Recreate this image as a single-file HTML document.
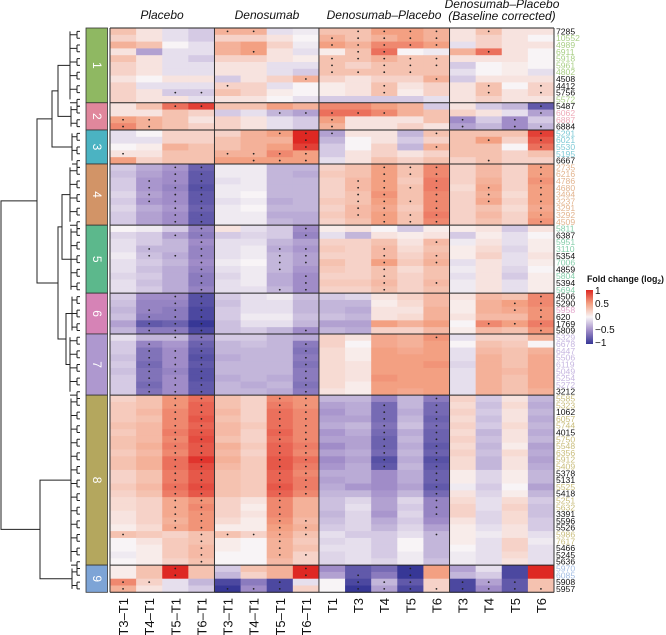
<!DOCTYPE html>
<html><head><meta charset="utf-8"><style>
html,body{margin:0;padding:0;background:#fff;}
svg{display:block;font-family:"Liberation Sans",sans-serif;}
</style></head><body>
<svg id="chart" width="666" height="635" viewBox="0 0 666 635" xmlns="http://www.w3.org/2000/svg">
<g id="dendro" stroke="#222" stroke-width="1" fill="none"></g>
<g id="clusters"></g>
<g id="cells"></g>
<g id="stars"></g>
<g id="grid"></g>
<g id="rowlabels"></g>
<g id="collabels"></g>
<g font-style="italic" font-size="12" text-anchor="middle" fill="#111">
<text x="162" y="19">Placebo</text>
<text x="267" y="19">Denosumab</text>
<text x="384" y="19">Denosumab–Placebo</text>
<text x="502" y="8">Denosumab–Placebo</text>
<text x="502" y="20">(Baseline corrected)</text>
</g>
<g id="legend">
<text x="587" y="282" font-size="8.8" font-weight="bold" fill="#111">Fold change (log<tspan font-size="6.5" dy="2">2</tspan><tspan dy="-2">)</tspan></text>
<defs><linearGradient id="lg" x1="0" y1="0" x2="0" y2="1">
<stop offset="0" stop-color="rgb(222,40,35)"/><stop offset="0.25" stop-color="rgb(243,160,130)"/><stop offset="0.5" stop-color="rgb(248,244,246)"/><stop offset="0.75" stop-color="rgb(160,140,200)"/><stop offset="1" stop-color="rgb(55,55,150)"/></linearGradient></defs>
<rect x="586" y="290" width="7" height="54" fill="url(#lg)"/>
<g font-size="10" fill="#111">
<text x="595" y="294">1</text>
<text x="595" y="307">0.5</text>
<text x="595" y="320">0</text>
<text x="595" y="333">−0.5</text>
<text x="595" y="346">−1</text>
</g>
</g>
</svg>
<script>
const columnLabels = ["T3–T1","T4–T1","T5–T1","T6–T1","T3–T1","T4–T1","T5–T1","T6–T1","T1","T3","T4","T5","T6","T3","T4","T5","T6"];
const clusterNames = ["1","2","3","4","5","6","7","8","9"];
const clusterSizes = [11,4,5,9,10,6,9,25,4];
const rowLabels = ["7285","10552","4989","6911","5918","5961","4802","4508","4412","5756","5572",
"5487","6062","6887","6884",
"5291","6021","5530","5195","6667",
"2735","6216","4786","4680","3494","3237","3291","3292","4509",
"5811","6387","5951","3110","5354","7006","4859","5804","5394","5694",
"4506","5290","5958","620","1769","5809",
"5329","6678","6447","5506","6119","5049","5254","5272","3212",
"5585","5323","1062","6057","5744","4015","5750","5548","6356","5912","5409","5378","5131","5525","5418","5251","5632","3391","5596","5526","5986","7617","5466","5245","5636",
"5970","6085","5908","5957"];
const blackLabels = ["7285","4508","4412","5756","5487","6884","6667","6387","5354","4859","5394","4506","5290","620","1769","5809","3212","1062","4015","5378","5131","5418","3391","5596","5526","5466","5245","5636","5908","5957"];
const values = [
[.3,.1,-.1,-.2,.4,.4,-.1,-.05,.3,.3,.5,.5,.4,.1,.3,.1,.1],
[.2,.1,-.1,-.2,.2,.2,.1,0,.4,.3,.4,.5,.4,.1,.2,.1,0],
[.4,.3,0,-.1,.4,.5,.2,-.05,.5,.4,.6,.6,.5,-.1,.2,.1,.1],
[.1,-.4,-.1,-.1,.4,.5,.1,-.1,.05,.3,.7,0,-.05,.4,.7,.1,0],
[.3,.1,-.1,-.2,.2,.2,.1,.05,.3,.3,.4,.3,.3,.1,.1,.1,0],
[.2,.1,-.1,-.1,.1,.1,-.1,-.1,.3,.2,.3,.3,.3,-.2,0,.05,0],
[.2,.1,-.1,-.1,.1,.1,-.1,-.2,.3,.3,.3,.3,.3,-.1,0,.05,-.1],
[.1,0,.1,.1,-.2,.1,.2,.4,.2,.1,.2,.2,.4,-.2,.1,.1,.1],
[.2,-.1,-.1,-.1,.2,.2,-.1,0,.05,.1,.3,.1,.2,.1,.3,0,.2],
[.2,.1,-.2,-.2,.3,.2,.05,0,.05,.1,.3,.05,.2,.1,.3,.1,.2],
[.2,.1,.1,-.1,.1,.1,0,-.1,-.2,-.2,-.2,-.2,-.1,.1,.2,.1,.1],
[.1,.3,.7,.9,.3,.3,.5,.4,.6,.6,.5,.4,-.2,.1,-.2,-.3,-.8],
[.1,.1,.3,.2,-.2,-.1,-.3,-.4,.7,.7,.6,.4,.3,.2,.1,-.1,-.4],
[.5,.4,.3,.1,.2,.1,-.1,-.2,.5,.1,.1,.1,.3,-.5,-.2,-.5,-.2],
[.6,.4,.3,.2,.2,.1,-.1,-.2,.4,.1,.1,.2,.1,-.4,-.3,-.5,-.3],
[-.1,0,.2,.2,.2,.4,.5,1,-.4,.1,.1,-.3,.3,.3,.3,.3,.9],
[-.1,-.1,.2,.2,.3,.4,.4,1,-.3,0,.1,-.2,.2,.3,.5,.2,.8],
[0,.05,.4,.3,.3,.4,.5,.9,-.2,0,.2,-.3,.4,.3,.3,0,.7],
[.1,.1,.3,.3,.4,.4,.6,.5,-.2,.1,.2,.1,.2,.3,.3,.2,.3],
[.5,.2,.3,.3,.5,.5,.5,.5,-.1,.1,.3,.2,.3,.2,.3,.2,.2],
[-.2,-.35,-.45,-.75,-.05,-.05,-.3,-.3,.2,.3,.5,.3,.6,.2,.35,.2,.5],
[-.25,-.4,-.5,-.8,-.05,-.05,-.3,-.35,.25,.3,.5,.3,.6,.2,.35,.2,.5],
[-.2,-.45,-.5,-.8,-.1,-.05,-.3,-.3,.2,.35,.5,.25,.65,.2,.4,.2,.55],
[-.2,-.45,-.55,-.85,-.05,-.05,-.3,-.3,.2,.35,.5,.3,.65,.15,.45,.2,.5],
[-.15,-.4,-.5,-.8,-.05,0,-.3,-.3,.2,.3,.55,.3,.6,.2,.4,.15,.5],
[-.2,-.45,-.5,-.8,-.1,-.05,-.35,-.3,.25,.3,.5,.3,.6,.2,.45,.2,.5],
[-.15,-.35,-.45,-.75,-.05,0,-.3,-.3,.2,.35,.45,.25,.6,.2,.3,.15,.45],
[-.2,-.4,-.5,-.8,-.05,-.05,-.35,-.35,.25,.35,.5,.3,.65,.2,.35,.2,.5],
[-.2,-.4,-.5,-.8,-.05,-.05,-.3,-.35,.2,.3,.5,.3,.6,.2,.3,.2,.55],
[0,-.05,-.2,-.55,.1,-.1,-.2,-.5,.05,.1,0,-.2,.05,.05,.1,-.2,.1],
[-.15,-.2,-.4,-.6,-.2,-.15,-.2,-.55,-.1,-.3,.1,.05,.1,-.2,.05,-.1,0],
[-.1,-.2,-.3,-.5,-.1,-.1,-.3,-.4,.2,.2,.3,.1,.35,-.05,.1,-.1,.05],
[-.1,-.3,-.3,-.55,-.1,-.05,-.35,-.45,.25,.2,.35,.15,.3,.05,.15,-.15,.05],
[-.05,-.25,-.35,-.55,-.1,-.05,-.3,-.4,.2,.2,.35,.2,.35,.05,.2,-.1,.1],
[-.1,-.2,-.3,-.5,-.05,0,-.3,-.4,.3,.2,.5,.25,.4,-.1,.1,-.1,.05],
[-.1,-.25,-.35,-.55,-.1,-.05,-.3,-.45,.25,.2,.3,.15,.3,-.05,.1,-.15,0],
[-.15,-.2,-.35,-.6,-.15,-.05,-.35,-.5,.2,.2,.3,.2,.3,-.1,.1,-.2,.05],
[-.1,-.25,-.35,-.6,-.1,-.05,-.35,-.5,.25,.25,.35,.2,.35,-.05,.1,-.1,.05],
[-.1,-.2,-.35,-.55,-.1,-.1,-.3,-.5,.2,.2,.3,.2,.3,-.05,.1,-.1,.05],
[-.2,-.5,-.5,-.85,-.2,-.1,-.05,-.25,-.2,-.15,.1,.2,.35,.1,.35,.3,.6],
[-.25,-.55,-.55,-.85,-.25,-.1,-.1,-.3,-.3,-.3,.05,.15,.35,.05,.4,.5,.6],
[-.3,-.55,-.6,-.9,-.2,-.1,-.1,-.3,-.3,-.35,.1,.1,.4,.05,.4,.45,.55],
[-.25,-.6,-.6,-.9,-.2,-.05,-.05,-.25,-.25,-.3,.1,.15,.4,.1,.35,.35,.55],
[-.4,-.8,-.75,-1,-.25,-.1,-.1,-.3,-.4,-.4,.5,.4,.5,0,.6,.5,.65],
[-.3,-.6,-.6,-.9,-.25,-.2,-.3,-.5,-.3,-.35,.2,.2,.35,.05,.35,.3,.55],
[-.1,-.3,-.3,-.65,-.2,-.2,-.3,-.35,.2,.1,.45,.4,.55,-.1,.2,.2,.4],
[-.2,-.55,-.45,-.75,-.3,-.25,-.3,-.6,.2,0,.45,.4,.5,0,.3,.25,0],
[-.2,-.65,-.5,-.8,-.3,-.3,-.3,-.65,.15,.05,.5,.45,.5,-.1,.35,.3,.4],
[-.25,-.65,-.5,-.85,-.35,-.3,-.3,-.6,.15,.05,.5,.5,.5,-.1,.4,.3,.45],
[-.2,-.7,-.5,-.8,-.3,-.3,-.3,-.65,.15,.1,.5,.5,.55,-.15,.4,.3,.45],
[-.25,-.65,-.55,-.85,-.3,-.3,-.3,-.6,.15,.1,.5,.5,.5,-.1,.4,.35,.45],
[-.2,-.65,-.5,-.85,-.35,-.3,-.35,-.6,.15,.1,.55,.5,.5,-.1,.4,.3,.45],
[-.2,-.7,-.5,-.8,-.3,-.35,-.3,-.65,.15,.05,.5,.5,.5,-.1,.4,.3,.45],
[-.2,-.65,-.5,-.8,-.3,-.3,-.35,-.6,.1,.05,.5,.45,.5,-.1,.4,.3,.4],
[.2,.3,.55,.7,.3,.2,.6,.55,-.3,-.3,-.55,-.3,-.6,.2,-.2,.1,-.3],
[.25,.3,.55,.75,.3,.2,.65,.55,-.4,-.35,-.7,-.3,-.7,.15,-.25,.15,-.35],
[.25,.35,.6,.75,.35,.2,.7,.6,-.45,-.35,-.7,-.35,-.7,.2,-.2,.1,-.3],
[.25,.3,.6,.8,.3,.2,.7,.6,-.4,-.4,-.7,-.3,-.75,.15,-.25,.1,-.35],
[.3,.35,.6,.75,.35,.25,.7,.6,-.35,-.3,-.65,-.25,-.7,.2,-.2,.15,-.3],
[.25,.35,.65,.8,.35,.2,.75,.6,-.45,-.35,-.7,-.35,-.75,.15,-.3,.1,-.35],
[.3,.35,.6,.85,.3,.2,.7,.6,-.4,-.4,-.75,-.3,-.75,.2,-.25,.1,-.3],
[.3,.4,.65,.8,.4,.25,.75,.65,-.5,-.4,-.75,-.35,-.8,.15,-.3,.05,-.4],
[.25,.35,.6,.8,.35,.2,.75,.6,-.4,-.35,-.7,-.3,-.75,.2,-.25,.15,-.35],
[.3,.4,.7,.95,.4,.25,.8,.7,-.5,-.4,-.85,-.35,-.85,.15,-.3,.1,-.4],
[.3,.4,.7,.85,.35,.25,.8,.65,-.45,-.35,-.8,-.3,-.8,.15,-.3,.1,-.35],
[.2,.3,.65,.8,.3,.25,.75,.6,-.35,-.35,-.5,-.35,-.75,.05,-.15,.05,-.3],
[.2,.3,.65,.8,.3,.25,.75,.65,-.4,-.35,-.5,-.35,-.75,.05,-.15,.05,-.3],
[.25,.35,.7,.85,.3,.25,.8,.65,-.35,-.45,-.5,-.4,-.8,-.05,-.2,0,-.4],
[.2,.3,.65,.8,.3,.25,.75,.6,-.3,-.3,-.45,-.3,-.7,.1,-.15,.05,-.3],
[.15,.2,.45,.55,.2,.1,.6,.4,-.25,-.15,-.4,-.15,-.55,.15,-.1,.15,-.2],
[.15,.2,.45,.6,.2,.05,.6,.4,-.25,-.1,-.4,-.2,-.55,.2,-.1,.2,-.25],
[.1,.2,.45,.55,.2,.1,.6,.4,-.3,-.15,-.45,-.15,-.55,.2,-.15,.15,-.25],
[.1,.2,.4,.55,.15,.05,.55,.35,-.25,-.15,-.35,-.2,-.5,.1,-.15,.15,-.2],
[.05,.15,.45,.55,.05,.05,.5,.4,-.2,-.15,-.3,-.15,-.4,.05,-.1,.1,-.2],
[.3,.25,.2,.3,.3,.2,.45,.3,-.1,-.2,-.2,-.1,-.3,.05,-.05,.1,-.1],
[0,.1,.25,.3,.05,0,.4,.25,-.15,-.1,-.2,0,-.3,.05,-.1,.2,-.05],
[0,.05,.25,.35,.05,0,.4,.3,-.1,-.1,-.2,0,-.3,0,-.1,.2,-.1],
[-.05,.05,.25,.35,0,0,.4,.2,-.15,-.1,-.2,-.05,-.3,-.05,-.1,.15,-.1],
[0,.05,.2,.3,0,0,.35,.2,-.15,-.1,-.15,-.05,-.25,-.05,-.1,.1,-.1],
[.05,.3,1,.3,-.2,.3,.4,1,-.5,-.8,-.7,-1,.5,-.4,-.1,-.9,1],
[.05,.3,1,.3,-.3,.2,.4,1,-.4,-.8,-.6,-1,.5,-.3,-.2,-.9,1],
[.6,.2,-.1,-.3,-.9,-.6,-.9,-.1,0,-.9,-.3,-.8,.2,-.9,-.4,-.8,.3],
[.4,.1,-.1,-.2,-1,-.5,-.9,.2,0,-1,-.4,-.9,.2,-.9,-.5,-.8,.3]
];
const significance = [
"....|**..|.****|.*..","....|....|*****|....","....|....|*****|....","....|.*..|.**..|.*..","....|....|*****|....","....|....|*.***|....","....|....|****.|....","....|...*|....*|....","....|*...|..*..|.*.*","..**|....|..*..|.*.*","....|....|.....|....",
"..**|....|.....|...*","....|..**|***..|...*","**..|....|*....|*.*.","**..|....|*....|*.**",
"....|..**|*...*|...*","....|...*|.....|.*.*","....|...*|....*|...*","*...|****|.....|....","....|.***|.....|.*..",
"..**|....|..***|...*","..**|....|..***|...*",".***|....|.**.*|...*",".***|....|.****|.*.*",".***|....|.**.*|.*.*",".***|....|.****|.*.*","..**|....|.**.*|...*","..**|....|.****|...*","..**|....|..***|...*",
"...*|...*|.....|....","..**|...*|.....|....","...*|....|....*|....",".*.*|..**|..*..|....",".***|..**|..*.*|....","...*|..**|..*.*|....","...*|..*.|..*..|....","...*|...*|..*..|....","...*|...*|..*.*|....","...*|..**|..*..|....",
"..**|....|.....|...*","..**|....|.....|..**",".***|....|.....|..**",".***|....|.....|...*",".***|....|.....|.***",".***|...*|.....|...*",
"..**|....|....*|....",".*.*|...*|.....|....",".***|...*|.....|....",".***|...*|.....|....",".***|...*|.....|....",".***|...*|.....|....",".***|...*|.....|....",".***|...*|.....|....",".***|...*|.....|....",
"..**|..**|....*|....","..**|..**|..*.*|....","..**|..**|..*.*|....","..**|..**|..*.*|....","..**|..**|..*.*|....","..**|..**|..*.*|....","..**|..**|..*.*|....","..**|..**|..*.*|....","..**|..**|..*.*|....","..**|..**|..*.*|....","..**|..**|..*.*|....","..**|..**|....*|....","..**|..**|....*|....","..**|..**|....*|....","..**|..**|....*|....","..**|..*.|....*|....","..**|..*.|....*|....","..**|..*.|....*|....","..**|..**|.....|....","..**|..**|.....|....","*..*|****|....*|....","...*|..*.|.....|....","...*|..*.|.....|....","...*|..**|.....|....","...*|....|.....|....",
"..*.|...*|...*.|....","..*.|...*|.*.*.|....","**..|..*.|.***.|***.","*...|***.|.****|****"
];
const clusterColors = ["#8fb862","#e0879c","#4bb3c2","#d29467","#5cb88c","#d683b6","#ae98cf","#b4a75e","#7da4d6"];
const labelColors = ["#a9cf86","#eeaab8","#7fcad6","#e2b48f","#86cfab","#e3a6cc","#c6b6e0","#c9bd7c","#a3bde3"];

const NS="http://www.w3.org/2000/svg";
const X0=110, X1=554, Y0=28, Y1=592.3;
const nCol=columnLabels.length, nRow=rowLabels.length;
const cw=(X1-X0)/nCol, rh=(Y1-Y0)/nRow;
const xPos=c=>X0+c*cw, yPos=r=>Y0+r*rh;
const stops=[[-1,[55,55,150]],[-0.5,[160,140,200]],[0,[248,244,246]],[0.5,[243,160,130]],[1,[222,40,35]]];
function color(v){v=Math.max(-1,Math.min(1,v));for(let i=0;i<stops.length-1;i++){const[a,ca]=stops[i],[b,cb]=stops[i+1];if(v<=b){const t=(v-a)/(b-a);return "rgb("+ca.map((c,k)=>Math.round(c+(cb[k]-c)*t)).join(",")+")";}}return "rgb(222,40,35)";}
function mk(tag,attrs,parent){const e=document.createElementNS(NS,tag);for(const k in attrs)e.setAttribute(k,attrs[k]);parent.appendChild(e);return e;}

const cells=document.getElementById("cells"), stars=document.getElementById("stars");
values.forEach((row,r)=>{
  const sig=significance[r].replace(/\|/g,"");
  row.forEach((v,c)=>{
    const rc=mk("rect",{x:xPos(c).toFixed(2),y:yPos(r).toFixed(2),width:(cw+0.4).toFixed(2),height:(rh+0.4).toFixed(2),fill:color(v)},cells);
    
    
    if(sig[c]==="*"){
      const s=mk("circle",{cx:(xPos(c)+cw/2).toFixed(2),cy:(yPos(r)+rh/2).toFixed(2),r:"0.9",fill:"#222"},stars);
      
      
    }
  });
});
const rl=document.getElementById("rowlabels");
rowLabels.forEach((lab,r)=>{
  let cl=0,acc=0;for(let i=0;i<clusterSizes.length;i++){acc+=clusterSizes[i];if(r<acc){cl=i;break;}}
  const t=mk("text",{x:"556",y:(yPos(r)+rh/2+3).toFixed(2),"font-size":"8.6",fill:blackLabels.includes(lab)?"#111":labelColors[cl]},rl);
  t.textContent=lab;
  
  
});
const cg=document.getElementById("clusters"), grid=document.getElementById("grid");
let start=0;
clusterSizes.forEach((n,i)=>{
  const y=yPos(start), h=n*rh;
  const b=mk("rect",{x:"86",y:y.toFixed(2),width:"21.5",height:h.toFixed(2),fill:clusterColors[i],stroke:"#333","stroke-width":"0.8"},cg);
  
  
  const cy=y+h/2;
  const t=mk("text",{x:"96.8",y:cy.toFixed(2),"font-size":"12",fill:"#fff","text-anchor":"middle",transform:"rotate(90 96.8 "+cy.toFixed(2)+")",dy:"4"},cg);
  t.textContent=clusterNames[i];
  
  
  start+=n;
});
let acc=0;
[0].concat(clusterSizes).forEach(n=>{acc+=n;
  const l=mk("line",{x1:X0,x2:X1,y1:yPos(acc).toFixed(2),y2:yPos(acc).toFixed(2),stroke:"#222","stroke-width":"1"},grid);
  
  
});
[0,4,8,13,17].forEach(c=>{
  const l=mk("line",{x1:xPos(c).toFixed(2),x2:xPos(c).toFixed(2),y1:Y0,y2:Y1,stroke:"#333","stroke-width":"1"},grid);
  
  
});
const colg=document.getElementById("collabels");
columnLabels.forEach((lab,c)=>{
  const x=xPos(c)+cw/2+5, y=598;
  const t=mk("text",{x:x.toFixed(2),y:y,"font-size":"13","fill":"#111","text-anchor":"end",transform:"rotate(-90 "+x.toFixed(2)+" "+y+")"},colg);
  t.textContent=lab;
  
  
});
const dg=document.getElementById("dendro");
function seg(d){const p=mk("path",{d:d},dg);}
let s=0;const mids=[];
clusterSizes.forEach((n,i)=>{
  const top=yPos(s)+rh/2, bot=yPos(s+n-1)+rh/2, xv=70+(i%3);
  let d="M"+xv+" "+top.toFixed(1)+"V"+bot.toFixed(1);
  for(let k=0;k<n;k+=2){const y=yPos(s+k)+rh;d+="M"+xv+" "+y.toFixed(1)+"H77";d+="M77 "+(y-rh/2).toFixed(1)+"V"+(y+rh/2).toFixed(1)+"M77 "+(y-rh/2).toFixed(1)+"H80M77 "+(y+rh/2).toFixed(1)+"H80";}
  seg(d);
  mids.push([xv,(top+bot)/2]);s+=n;
});
function join(a,b,x){seg("M"+a[0]+" "+a[1].toFixed(1)+"H"+x+"V"+b[1].toFixed(1)+"H"+b[0]);return [x,(a[1]+b[1])/2];}
const j12=join(mids[0],mids[1],58);
const j123=join(j12,mids[2],52);
const j45=join(mids[3],mids[4],62);
const j67=join(mids[5],mids[6],66);
const j4567=join(j45,j67,58);
const jA=join(j123,j4567,37);
const jB=join(mids[7],mids[8],40);
seg("M"+jA[0]+" "+jA[1].toFixed(1)+"H1V"+jB[1].toFixed(1)+"H"+jB[0]);
</script>
</body></html>
